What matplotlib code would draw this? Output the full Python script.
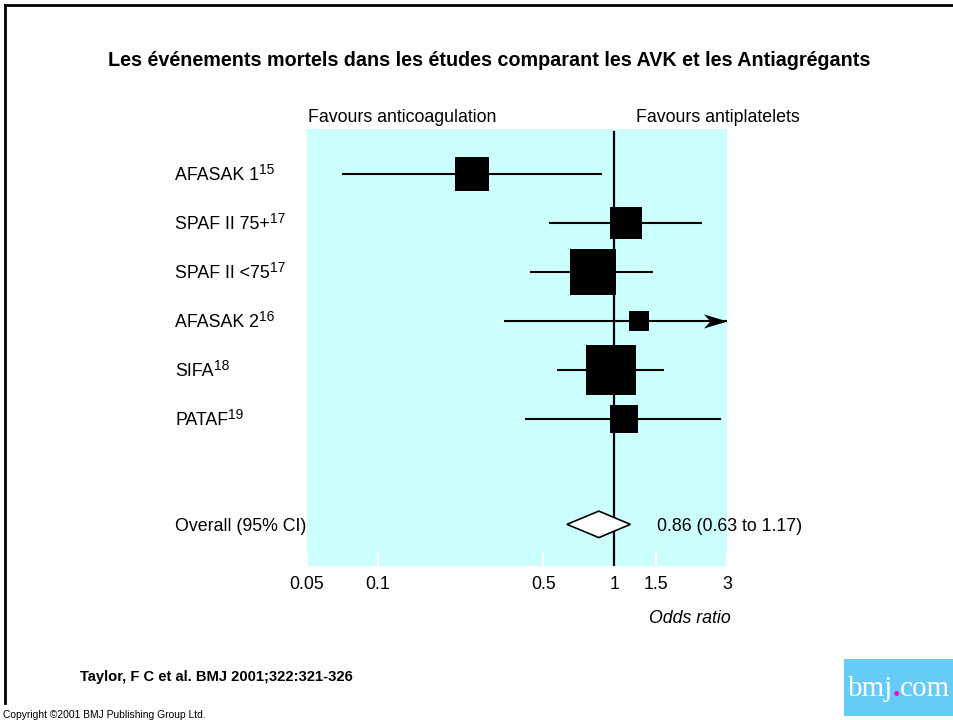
import numpy as np
import matplotlib
matplotlib.use("Agg")
import matplotlib.pyplot as plt
from matplotlib.lines import Line2D
from matplotlib.patches import Polygon, Rectangle
from matplotlib.path import Path
from matplotlib.ticker import NullLocator
from matplotlib.offsetbox import TextArea, HPacker, AnnotationBbox

# Trials (odds ratio for fatal events, anticoagulation vs antiplatelets)
studies = ["AFASAK 1", "SPAF II 75+", "SPAF II <75", "AFASAK 2", "SIFA", "PATAF"]
refs = ["15", "17", "17", "16", "18", "19"]
odds_ratio = [0.25, 1.12, 0.81, 1.27, 0.97, 1.10]
ci_low = [0.07, 0.53, 0.44, 0.34, 0.57, 0.42]
ci_high = [0.89, 2.34, 1.46, None, 1.63, 2.84]  # None = runs off the scale
weights = [15.1, 13.4, 26.1, 4.9, 30.8, 9.7]

overall_label = "Overall (95% CI)"
overall_or = 0.86
overall_low = 0.63
overall_high = 1.17

tick_values = [0.05, 0.1, 0.5, 1, 1.5, 3]
tick_labels = ["0.05", "0.1", "0.5", "1", "1.5", "3"]

plt.rcParams["font.family"] = ["Liberation Sans", "DejaVu Sans"]
fs = 12.8

fig = plt.figure(figsize=(9.54, 7.2), dpi=100)
W, H = 954, 720

ax = fig.add_axes([307 / W, 1 - 566 / H, 420 / W, 437 / H])
ax.set_xscale("log")
ax.set_xlim(tick_values[0], tick_values[-1])
ax.set_ylim(8.0, -0.92)
ax.set_facecolor("#ccffff")
for s in ax.spines.values():
    s.set_visible(False)
ax.set_xticks(tick_values)
ax.set_xticklabels(tick_labels)
ax.xaxis.set_minor_locator(NullLocator())
ax.tick_params(axis="x", direction="in", color="white", length=10, width=1.5,
               pad=7, labelsize=fs)
ax.set_yticks([])

# line of no effect
ax.axvline(1, 0, 0.993, color="black", lw=1.6)

# arrow head for intervals beyond the axis
arrow = Path([(0, 0), (-1, 0.3), (-0.72, 0), (-1, -0.3), (0, 0)],
             [Path.MOVETO, Path.LINETO, Path.LINETO, Path.LINETO, Path.CLOSEPOLY])

label_x = -0.314
ytrans = ax.get_yaxis_transform()
for y, (name, ref, est, lo, hi, w) in enumerate(zip(studies, refs, odds_ratio,
                                                    ci_low, ci_high, weights)):
    right = hi if hi is not None else tick_values[-1]
    ax.plot([lo, right], [y, y], color="black", lw=1.5, solid_capstyle="butt")
    if hi is None:
        ax.plot(right, y, marker=arrow, ms=34, color="black", mew=0, clip_on=False)
    ax.plot(est, y, marker="s", ms=0.72 * 9.0 * np.sqrt(w), color="black", mew=0)
    label = ax.annotate(name, xy=(label_x, y), xycoords=ytrans, xytext=(0, -4.5),
                        textcoords="offset points", ha="left", va="baseline",
                        fontsize=fs, annotation_clip=False)
    # reference number as superscript
    ax.annotate(ref, xy=(1, 1), xycoords=label, xytext=(0, 2.8),
                textcoords="offset points", ha="left", va="top",
                fontsize=fs * 0.78, annotation_clip=False)

# pooled estimate
y0 = 7.15
h = 0.27
diamond = Polygon([(overall_low, y0), (overall_or, y0 - h), (overall_high, y0),
                   (overall_or, y0 + h)], closed=True, facecolor="white",
                  edgecolor="black", lw=1.2, zorder=3)
ax.add_patch(diamond)
ax.annotate(overall_label, xy=(label_x, y0), xycoords=ytrans, xytext=(0, -4.5),
            textcoords="offset points", ha="left", va="baseline", fontsize=fs,
            annotation_clip=False)
ax.annotate(f"{overall_or:.2f} ({overall_low:.2f} to {overall_high:.2f})",
            xy=(overall_high, y0), xytext=(19, -4.5), textcoords="offset points",
            ha="left", va="baseline", fontsize=fs, annotation_clip=False)

ax.text(0.226, 1.027, "Favours anticoagulation", transform=ax.transAxes,
        ha="center", va="center", fontsize=fs)
ax.text(0.979, 1.027, "Favours antiplatelets", transform=ax.transAxes,
        ha="center", va="center", fontsize=fs)
ax.text(0.912, -0.119, "Odds ratio", transform=ax.transAxes, ha="center",
        va="center", fontsize=fs, style="italic")

# slide texts
fig.text(489 / W, 1 - 60 / H,
         "Les événements mortels dans les études comparant les AVK et les Antiagrégants",
         ha="center", va="center", fontsize=14.2, fontweight="bold")
fig.text(80 / W, 1 - 677 / H, "Taylor, F C et al. BMJ 2001;322:321-326",
         ha="left", va="center", fontsize=10.6, fontweight="bold")
fig.text(3 / W, 1 - 715 / H, "Copyright ©2001 BMJ Publishing Group Ltd.",
         ha="left", va="center", fontsize=7.4)

# slide border (top and left)
fig.add_artist(Line2D([5 / W, 1], [1 - 5 / H, 1 - 5 / H], transform=fig.transFigure,
                      color="black", lw=2))
fig.add_artist(Line2D([5 / W, 5 / W], [1 - 5 / H, 1 - 703 / H],
                      transform=fig.transFigure, color="black", lw=2))

# bmj.com logo
fig.patches.append(Rectangle((844 / W, 1 - 716 / H), 110 / W, 57 / H,
                             transform=fig.transFigure, facecolor="#66ccf5",
                             edgecolor="none"))
logo_font = dict(fontsize=21, family=["Liberation Serif", "DejaVu Serif"])
parts = [TextArea("bmj", textprops=dict(color="white", **logo_font)),
         TextArea(".", textprops=dict(color="#ff00cc", fontweight="bold", **logo_font)),
         TextArea("com", textprops=dict(color="white", **logo_font))]
logo = HPacker(children=parts, align="baseline", pad=0, sep=0)
fig.add_artist(AnnotationBbox(logo, (899 / W, 1 - 688 / H), xycoords="figure fraction",
                              frameon=False, box_alignment=(0.5, 0.5)))

fig.savefig("out.png", dpi=100)
